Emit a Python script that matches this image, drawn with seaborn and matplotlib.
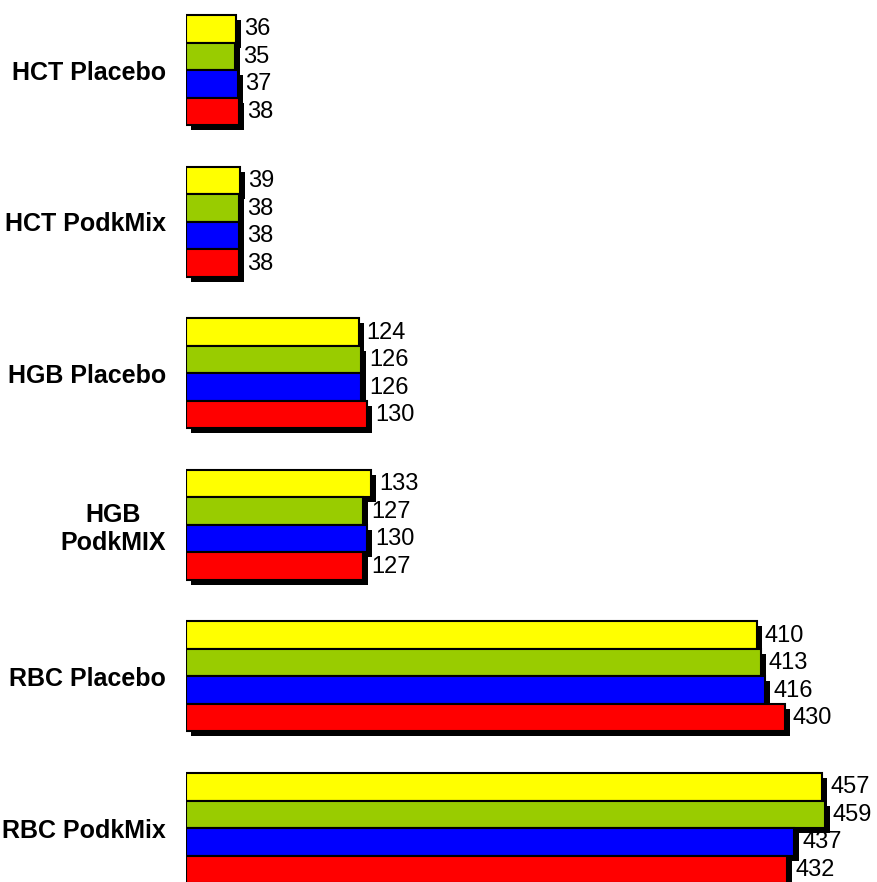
import matplotlib
matplotlib.use("Agg")
import matplotlib.pyplot as plt
import matplotlib.patheffects as pe
import pandas as pd
import seaborn as sns

# Groups (top to bottom) and the four measurement series within each group
categories = ["HCT Placebo", "HCT PodkMix", "HGB Placebo", "HGB\nPodkMIX",
              "RBC Placebo", "RBC PodkMix"]
series = ["Visit 1", "Visit 2", "Visit 3", "Visit 4"]
visit1 = [36, 39, 124, 133, 410, 457]
visit2 = [35, 38, 126, 127, 413, 459]
visit3 = [37, 38, 126, 130, 416, 437]
visit4 = [38, 38, 130, 127, 430, 432]
colors = ["#FFFF00", "#99CC00", "#0000FF", "#FF0000"]

sns.set_style("white")
plt.rcParams["font.family"] = ["Liberation Sans", "DejaVu Sans"]

rows = []
for s, vals in zip(series, [visit1, visit2, visit3, visit4]):
    for c, v in zip(categories, vals):
        rows.append({"category": c, "series": s, "value": v})
df = pd.DataFrame(rows)

fig = plt.figure(figsize=(8.77, 8.82), dpi=100)
ax = fig.add_axes([186 / 877, 0.0, (860 - 186) / 877, 1.0])

sns.barplot(data=df, y="category", x="value", hue="series",
            order=categories, hue_order=series, palette=colors,
            orient="h", width=0.7256, saturation=1, edgecolor="black",
            linewidth=1.5, legend=False, ax=ax)

# drop shadow behind each bar
for p in ax.patches:
    p.set_path_effects([
        pe.SimplePatchShadow(offset=(3.6, -3.6), shadow_rgbFace="black", alpha=1.0),
        pe.Normal(),
    ])

# value labels next to the bar ends
for cont, vals in zip(ax.containers, [visit1, visit2, visit3, visit4]):
    for bar, v in zip(cont, vals):
        ax.annotate(f"{v}", (bar.get_x() + bar.get_width(), bar.get_y() + bar.get_height() / 2),
                    xytext=(5.8, -0.5), textcoords="offset points",
                    ha="left", va="center", fontsize=17, color="black",
                    annotation_clip=False)

ax.set_xlim(0, 674 / 1.392)
ax.set_ylim(5.356, -0.462)
ax.set_xlabel("")
ax.set_ylabel("")
ax.set_xticks([])
for sp in ax.spines.values():
    sp.set_visible(False)
ax.tick_params(axis="y", length=0, pad=14.4, labelsize=18, labelcolor="black")
for lbl in ax.get_yticklabels():
    lbl.set_fontweight("bold")
    lbl.set_multialignment("center")

fig.savefig("out.png", dpi=100, facecolor="white")
